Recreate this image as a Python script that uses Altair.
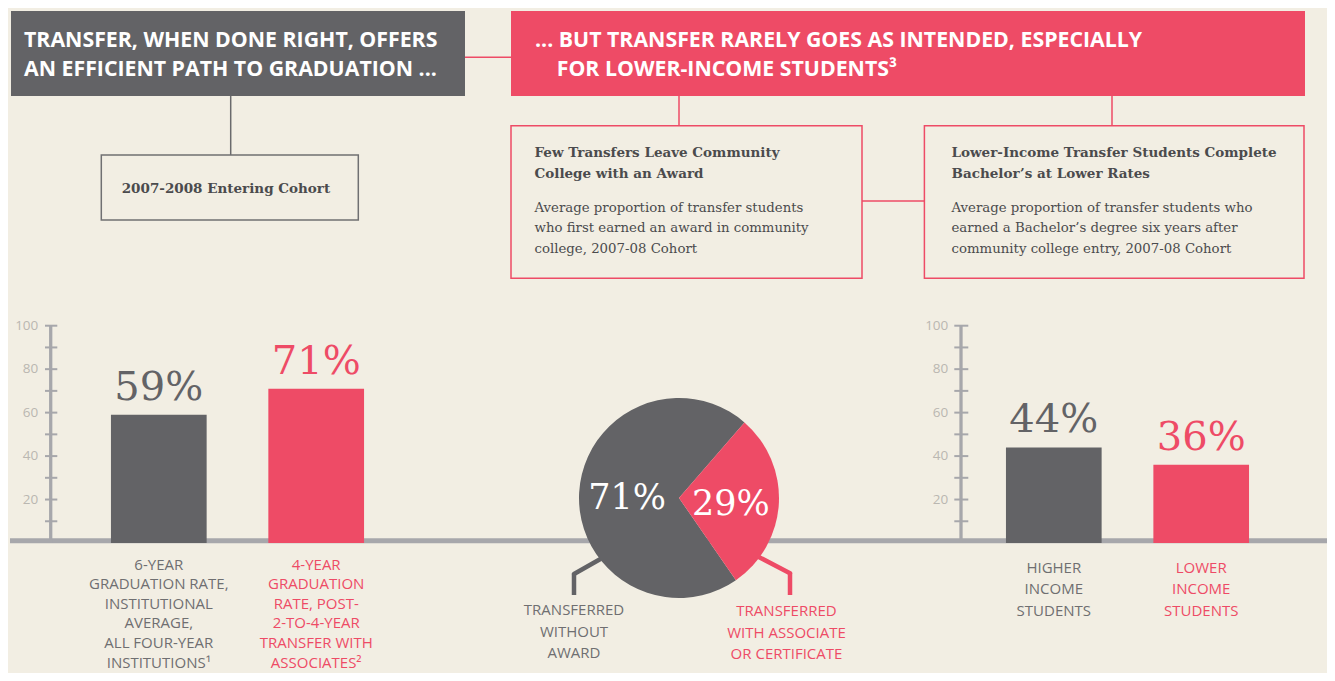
import math
import altair as alt
import pandas as pd

W, H = 1319, 665
BG = "#f2eee3"
GRAY = "#636366"
PINK = "#ee4b66"
LABELGRAY = "#6f6f71"
LINE = "#a7a7ab"
TICKTXT = "#bab7b1"
DARK = "#4b4b4d"
SANS = "Open Sans"
HEAD = "Open Sans"
SERIF = "DejaVu Serif"

# ---------------- text content ----------------
header_left_lines = ["TRANSFER, WHEN DONE RIGHT, OFFERS", "AN EFFICIENT PATH TO GRADUATION ..."]
header_right_line1 = "... BUT TRANSFER RARELY GOES AS INTENDED, ESPECIALLY"
header_right_line2 = "FOR LOWER-INCOME STUDENTS³"
cohort_text = "2007-2008 Entering Cohort"
box1_title = ["Few Transfers Leave Community", "College with an Award"]
box1_body = ["Average proportion of transfer students",
             "who first earned an award in community",
             "college, 2007-08 Cohort"]
box2_title = ["Lower-Income Transfer Students Complete", "Bachelor’s at Lower Rates"]
box2_body = ["Average proportion of transfer students who",
             "earned a Bachelor’s degree six years after",
             "community college entry, 2007-08 Cohort"]

# ---------------- data ----------------
grad_keys = ["all_four_year", "transfer_assoc"]
grad_values = [59, 71]
grad_labels = ["6-YEAR\nGRADUATION RATE,\nINSTITUTIONAL\nAVERAGE,\nALL FOUR-YEAR\nINSTITUTIONS¹",
               "4-YEAR\nGRADUATION\nRATE, POST-\n2-TO-4-YEAR\nTRANSFER WITH\nASSOCIATES²"]

pie_keys = ["without_award", "with_award"]
pie_values = [71, 29]
pie_labels = ["TRANSFERRED\nWITHOUT\nAWARD", "TRANSFERRED\nWITH ASSOCIATE\nOR CERTIFICATE"]

income_keys = ["higher", "lower"]
income_values = [44, 36]
income_labels = ["HIGHER\nINCOME\nSTUDENTS", "LOWER\nINCOME\nSTUDENTS"]

tick_values = [10, 20, 30, 40, 50, 60, 70, 80, 90, 100]
tick_label_values = [20, 40, 60, 80, 100]

# ---------------- helpers ----------------
one = pd.DataFrame({"_": [0]})
YS = alt.Scale(domain=[0, 100], range=[535, 317.7], nice=False, zero=False)


def rect(x, x2, y, y2, **kw):
    return alt.Chart(one).mark_rect(**kw).encode(
        x=alt.value(x), x2=alt.value(x2), y=alt.value(y), y2=alt.value(y2))


def seg(x, y, x2, y2, **kw):
    return alt.Chart(one).mark_rule(**kw).encode(
        x=alt.value(x), x2=alt.value(x2), y=alt.value(y), y2=alt.value(y2))


def txt(lines, x, y, **kw):
    return alt.Chart(one).mark_text(lineBreak="\n", **kw).encode(
        x=alt.value(x), y=alt.value(y), text=alt.value("\n".join(lines)))


def bar_group(keys, values, labels, rng, pad_inner, lab_y, lab_lh):
    df = pd.DataFrame({"key": keys, "value": values, "label": labels,
                       "pct": [f"{v}%" for v in values]})
    x = alt.X("key:N", axis=None,
              scale=alt.Scale(domain=keys, range=rng,
                              paddingInner=pad_inner, paddingOuter=pad_inner / 2))
    y = alt.Y("value:Q", scale=YS, axis=None)
    col = alt.Color("key:N", scale=alt.Scale(domain=keys, range=[GRAY, PINK]), legend=None)
    lcol = alt.Color("key:N", scale=alt.Scale(domain=keys, range=[LABELGRAY, PINK]), legend=None)
    base = alt.Chart(df)
    bars = base.mark_bar().encode(x=x, y=y, y2=alt.datum(0), color=col)
    vals = base.mark_text(font=SERIF, fontSize=40, baseline="alphabetic", dy=-15).encode(
        x=x, y=y, text="pct:N", color=col)
    cats = base.mark_text(font=SANS, fontSize=15, baseline="alphabetic",
                          lineBreak="\n", lineHeight=lab_lh).encode(
        x=x, y=alt.value(lab_y), text="label:N", color=lcol)
    return alt.layer(alt.layer(bars, vals), cats).resolve_scale(color="independent")


def axis_group(x_line, x_t0, x_t1, x_lab):
    tdf = pd.DataFrame({"v": tick_values})
    ldf = pd.DataFrame({"v": tick_label_values})
    line = alt.Chart(one).mark_rule(color=LINE, strokeWidth=3.3).encode(
        x=alt.value(x_line),
        y=alt.YDatum(100, scale=YS, axis=None),
        y2=alt.Y2Datum(0))
    ticks = alt.Chart(tdf).mark_rule(color=LINE, strokeWidth=2).encode(
        y=alt.Y("v:Q", scale=YS, axis=None), x=alt.value(x_t0), x2=alt.value(x_t1))
    labs = alt.Chart(ldf).mark_text(align="right", baseline="middle", font=SANS,
                                    fontSize=13.5, color=TICKTXT).encode(
        y=alt.Y("v:Q", scale=YS, axis=None), x=alt.value(x_lab), text="v:Q")
    return alt.layer(line, ticks, labs)


# ---------------- header / boxes ----------------
head_kw = dict(font=HEAD, fontSize=21.3, fontWeight="bold", color="white",
               align="left", baseline="alphabetic")
serif_b = dict(font=SERIF, fontSize=13.5, fontWeight="bold", color=DARK,
               align="left", baseline="alphabetic", lineHeight=21)
serif_r = dict(font=SERIF, fontSize=13.3, color=DARK, align="left",
               baseline="alphabetic", lineHeight=20.8)

decor = [
    seg(457, 49.3, 503, 49.3, color=PINK, strokeWidth=1.5),
    rect(3, 457, 3, 88, color=GRAY),
    txt([header_left_lines[0]], 16, 39.3, **head_kw),
    txt([header_left_lines[1]], 16, 67.7, **head_kw),
    rect(503, 1297, 3, 88, color=PINK),
    txt([header_right_line1], 527, 38.7, **head_kw),
    txt([header_right_line2], 548.7, 68, **head_kw),
    seg(222.7, 88, 222.7, 147, color="#6a6a6c", strokeWidth=1.5),
    rect(93.3, 350.3, 147, 212, fill=BG, stroke="#707072", strokeWidth=1.5),
    txt([cohort_text], 113.7, 184.7, **serif_b),
    seg(671, 88, 671, 117.7, color=PINK, strokeWidth=1.5),
    seg(1104, 88, 1104, 117.7, color=PINK, strokeWidth=1.5),
    seg(854, 193, 916.4, 193, color=PINK, strokeWidth=1.5),
    rect(503, 854, 117.7, 270.3, fill=BG, stroke=PINK, strokeWidth=1.5),
    rect(916.4, 1296, 117.7, 270.3, fill=BG, stroke=PINK, strokeWidth=1.5),
    txt(box1_title, 526.5, 148.7, **serif_b),
    txt(box1_body, 526.5, 203.7, **serif_r),
    txt(box2_title, 943.5, 148.7, **serif_b),
    txt(box2_body, 943.5, 203.7, **serif_r),
    # baseline
    seg(2, 532.8, 1330, 532.8, color=LINE, strokeWidth=5),
]

# ---------------- pie ----------------
PCX, PCY = 671, 490
START = math.radians(145.3)
pdf = pd.DataFrame({"key": pie_keys, "value": pie_values,
                    "pct": [f"{v}%" for v in pie_values]})
th = alt.Theta("value:Q", stack=True,
               scale=alt.Scale(range=[START, START + 2 * math.pi]))
pcol = alt.Color("key:N", scale=alt.Scale(domain=pie_keys, range=[GRAY, PINK]), legend=None)
order = alt.Order("value:Q", sort="descending")
pie = alt.Chart(pdf).mark_arc(radius=100).encode(
    theta=th, color=pcol, order=order, x=alt.value(PCX), y=alt.value(PCY))
pie_text = alt.Chart(pdf).mark_text(radius=52, font=SERIF, fontSize=35, color="white",
                                    baseline="middle", dy=3).encode(
    theta=th, text="pct:N", order=order, detail="key:N",
    x=alt.value(PCX), y=alt.value(PCY))
pie_group = alt.layer(pie, pie_text)

connectors = [
    seg(592, 551.3, 566, 566, color=GRAY, strokeWidth=4.5, strokeCap="round"),
    seg(566, 566, 566, 587, color=GRAY, strokeWidth=4.5),
    seg(750.3, 548.7, 782, 565.3, color=PINK, strokeWidth=4.5, strokeCap="round"),
    seg(782, 565.3, 782, 587, color=PINK, strokeWidth=4.5),
]
pie_cat = [
    txt(pie_labels[0].split("\n"), 566, 607, font=SANS, fontSize=15, color=LABELGRAY,
        align="center", baseline="alphabetic", lineHeight=21.6),
    txt(pie_labels[1].split("\n"), 778.5, 608, font=SANS, fontSize=15, color=PINK,
        align="center", baseline="alphabetic", lineHeight=21.6),
]

left_group = bar_group(grad_keys, grad_values, grad_labels, [72.1, 386.9], 0.392, 561.5, 19.6)
right_group = bar_group(income_keys, income_values, income_labels, [972.1, 1266.9], 0.351, 564.5, 21.6)

layers = decor + [
    axis_group(42.7, 37, 49.3, 30.3),
    axis_group(953, 946.3, 960.3, 940.3),
    left_group,
    right_group,
] + connectors + [pie_group] + pie_cat

chart = alt.layer(*layers).resolve_scale(
    x="independent", color="independent"
).properties(
    width=W, height=H, padding=0,
    autosize=alt.AutoSizeParams(type="none"),
    background=BG,
).configure_view(stroke=None)

chart.save("out.html", embed_options={"renderer": "svg", "actions": False})
